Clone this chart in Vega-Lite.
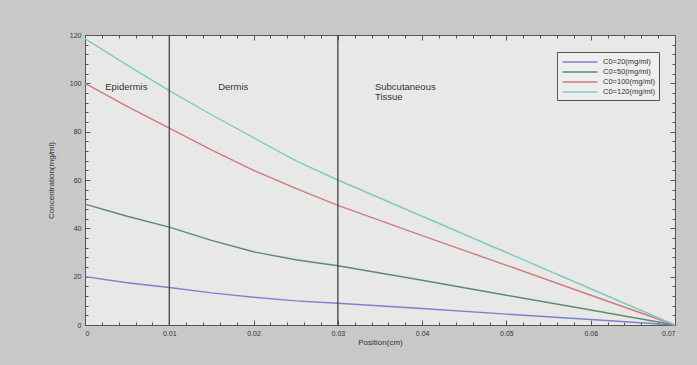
{
  "$schema": "https://vega.github.io/schema/vega-lite/v6.json",
  "width": 590,
  "height": 290,
  "autosize": "none",
  "padding": {"left": 85, "top": 35, "right": 22, "bottom": 40},
  "background": "#c8c8c8",
  "config": {
    "view": {"fill": "#e8e8e8", "stroke": "#555555", "strokeWidth": 1},
    "font": "Liberation Sans",
    "axis": {"labelFontSize": 7, "labelColor": "#333333", "titleFontSize": 8, "titleColor": "#333333", "titleFontWeight": "normal", "domain": false, "tickColor": "#555555", "grid": false}
  },
  "datasets": {
    "curves": [
      {"x": 0, "c": 20, "s": "C0=20(mg/ml)"},
      {"x": 0.005, "c": 17.5, "s": "C0=20(mg/ml)"},
      {"x": 0.01, "c": 15.5, "s": "C0=20(mg/ml)"},
      {"x": 0.015, "c": 13.3, "s": "C0=20(mg/ml)"},
      {"x": 0.02, "c": 11.5, "s": "C0=20(mg/ml)"},
      {"x": 0.025, "c": 10, "s": "C0=20(mg/ml)"},
      {"x": 0.03, "c": 9, "s": "C0=20(mg/ml)"},
      {"x": 0.04, "c": 6.8, "s": "C0=20(mg/ml)"},
      {"x": 0.05, "c": 4.5, "s": "C0=20(mg/ml)"},
      {"x": 0.06, "c": 2.3, "s": "C0=20(mg/ml)"},
      {"x": 0.07, "c": 0, "s": "C0=20(mg/ml)"},
      {"x": 0, "c": 50, "s": "C0=50(mg/ml)"},
      {"x": 0.005, "c": 45, "s": "C0=50(mg/ml)"},
      {"x": 0.01, "c": 40.5, "s": "C0=50(mg/ml)"},
      {"x": 0.015, "c": 35, "s": "C0=50(mg/ml)"},
      {"x": 0.02, "c": 30.3, "s": "C0=50(mg/ml)"},
      {"x": 0.025, "c": 27, "s": "C0=50(mg/ml)"},
      {"x": 0.03, "c": 24.5, "s": "C0=50(mg/ml)"},
      {"x": 0.04, "c": 18.5, "s": "C0=50(mg/ml)"},
      {"x": 0.05, "c": 12.3, "s": "C0=50(mg/ml)"},
      {"x": 0.06, "c": 6.2, "s": "C0=50(mg/ml)"},
      {"x": 0.07, "c": 0, "s": "C0=50(mg/ml)"},
      {"x": 0, "c": 100, "s": "C0=100(mg/ml)"},
      {"x": 0.005, "c": 90.5, "s": "C0=100(mg/ml)"},
      {"x": 0.01, "c": 81.5, "s": "C0=100(mg/ml)"},
      {"x": 0.015, "c": 72.5, "s": "C0=100(mg/ml)"},
      {"x": 0.02, "c": 64, "s": "C0=100(mg/ml)"},
      {"x": 0.025, "c": 56.5, "s": "C0=100(mg/ml)"},
      {"x": 0.03, "c": 49.5, "s": "C0=100(mg/ml)"},
      {"x": 0.04, "c": 37, "s": "C0=100(mg/ml)"},
      {"x": 0.05, "c": 24.7, "s": "C0=100(mg/ml)"},
      {"x": 0.06, "c": 12.3, "s": "C0=100(mg/ml)"},
      {"x": 0.07, "c": 0, "s": "C0=100(mg/ml)"},
      {"x": 0, "c": 118.5, "s": "C0=120(mg/ml)"},
      {"x": 0.005, "c": 107.5, "s": "C0=120(mg/ml)"},
      {"x": 0.01, "c": 97, "s": "C0=120(mg/ml)"},
      {"x": 0.015, "c": 87, "s": "C0=120(mg/ml)"},
      {"x": 0.02, "c": 77.5, "s": "C0=120(mg/ml)"},
      {"x": 0.025, "c": 68, "s": "C0=120(mg/ml)"},
      {"x": 0.03, "c": 60, "s": "C0=120(mg/ml)"},
      {"x": 0.04, "c": 45, "s": "C0=120(mg/ml)"},
      {"x": 0.05, "c": 30, "s": "C0=120(mg/ml)"},
      {"x": 0.06, "c": 15, "s": "C0=120(mg/ml)"},
      {"x": 0.07, "c": 0, "s": "C0=120(mg/ml)"}
    ],
    "bounds": [{"x": 0.01}, {"x": 0.03}],
    "labels": [
      {"x": 0.0024, "c": 98.5, "t": "Epidermis"},
      {"x": 0.0158, "c": 98.5, "t": "Dermis"},
      {"x": 0.0344, "c": 98.5, "t": "Subcutaneous"},
      {"x": 0.0344, "c": 94.3, "t": "Tissue"}
    ]
  },
  "resolve": {"axis": {"x": "independent", "y": "independent"}},
  "layer": [
    {
      "data": {"name": "curves"},
      "mark": {"type": "line", "strokeWidth": 1.4},
      "encoding": {
        "x": {"field": "x", "type": "quantitative", "scale": {"domain": [0, 0.07], "nice": false},
          "axis": {"title": "Position(cm)", "titleY": 13, "titleBaseline": "top", "labelPadding": 9, "format": ".2~f",
            "values": [0,0.002,0.004,0.006,0.008,0.01,0.012,0.014,0.016,0.018,0.02,0.022,0.024,0.026,0.028,0.03,0.032,0.034,0.036,0.038,0.04,0.042,0.044,0.046,0.048,0.05,0.052,0.054,0.056,0.058,0.06,0.062,0.064,0.066,0.068,0.07],
            "labelExpr": "abs(round(datum.value*1000)) % 10 == 0 ? datum.label : ''",
            "tickSize": {"condition": {"test": "abs(round(datum.value*1000)) % 10 == 0", "value": -5}, "value": -3}}},
        "y": {"field": "c", "type": "quantitative", "scale": {"domain": [0, 120], "nice": false},
          "axis": {"title": "Concentration(mg/ml)", "titleX": -30, "labelPadding": 9,
            "values": [0,4,8,12,16,20,24,28,32,36,40,44,48,52,56,60,64,68,72,76,80,84,88,92,96,100,104,108,112,116,120],
            "labelExpr": "datum.value % 20 == 0 ? datum.label : ''",
            "tickSize": {"condition": {"test": "datum.value % 20 == 0", "value": -5}, "value": -3}}},
        "color": {"field": "s", "type": "nominal", "sort": ["C0=20(mg/ml)", "C0=50(mg/ml)", "C0=100(mg/ml)", "C0=120(mg/ml)"],
          "scale": {"domain": ["C0=20(mg/ml)", "C0=50(mg/ml)", "C0=100(mg/ml)", "C0=120(mg/ml)"], "range": ["#7f7fcf", "#5f8a6c", "#d07a7a", "#7fcbc2"]},
          "legend": {"title": null, "orient": "none", "legendX": 472, "legendY": 17, "symbolType": "M-3.5,0H3.5", "symbolSize": 100, "symbolStrokeWidth": 1.5, "symbolOffset": 13,
            "labelFontSize": 7.5, "labelColor": "#333333", "rowPadding": 0, "padding": 4, "fillColor": "#eeeeee", "strokeColor": "#555555", "labelOffset": 17}}
      }
    },
    {
      "data": {"name": "bounds"},
      "mark": {"type": "rule", "color": "#444444", "strokeWidth": 1.3},
      "encoding": {
        "x": {"field": "x", "type": "quantitative",
          "axis": {"orient": "top", "labels": false, "title": null,
            "values": [0,0.002,0.004,0.006,0.008,0.01,0.012,0.014,0.016,0.018,0.02,0.022,0.024,0.026,0.028,0.03,0.032,0.034,0.036,0.038,0.04,0.042,0.044,0.046,0.048,0.05,0.052,0.054,0.056,0.058,0.06,0.062,0.064,0.066,0.068,0.07],
            "tickSize": {"condition": {"test": "abs(round(datum.value*1000)) % 10 == 0", "value": -5}, "value": -3}}}
      }
    },
    {
      "data": {"name": "labels"},
      "mark": {"type": "text", "align": "left", "baseline": "middle", "fontSize": 9.5, "color": "#333333"},
      "encoding": {
        "x": {"field": "x", "type": "quantitative", "axis": null},
        "y": {"field": "c", "type": "quantitative",
          "axis": {"orient": "right", "labels": false, "title": null,
            "values": [0,4,8,12,16,20,24,28,32,36,40,44,48,52,56,60,64,68,72,76,80,84,88,92,96,100,104,108,112,116,120],
            "tickSize": {"condition": {"test": "datum.value % 20 == 0", "value": -5}, "value": -3}}},
        "text": {"field": "t", "type": "nominal"}
      }
    }
  ]
}
